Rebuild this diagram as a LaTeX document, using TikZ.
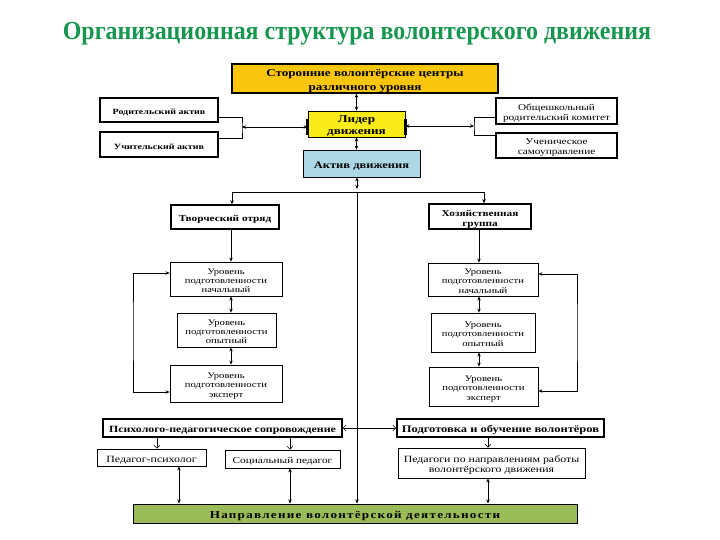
\documentclass[tikz,border=0pt]{standalone}
\usepackage{fontspec}
\setmainfont{Liberation Serif}
\newfontfamily\boxfont[FakeStretch=1.25]{Liberation Serif}
\newfontfamily\titlefont[FakeStretch=0.92]{Liberation Serif}
\usetikzlibrary{arrows.meta}
\newcommand\mlines[1]{\raisebox{-2.5pt}[\height][\depth]{\begin{tabular}{@{}c@{}}#1\end{tabular}}}
\definecolor{titlegreen}{RGB}{22,150,78}
\definecolor{gold}{RGB}{250,198,12}
\definecolor{lidyellow}{RGB}{250,236,25}
\definecolor{aktblue}{RGB}{172,216,230}
\definecolor{napgreen}{RGB}{155,187,89}
\tikzset{
  bx/.style={draw=black, line width=0.8pt, fill=white, align=center, inner sep=0pt,
    execute at begin node={\rule{0pt}{1.2em}}},
  thickbx/.style={bx, line width=1.6pt},
  fs/.style 2 args={font=\boxfont\fontsize{#1}{#2}\selectfont},
  fsb/.style 2 args={font=\boxfont\bfseries\fontsize{#1}{#2}\selectfont},
  ln/.style={line width=0.8pt},
  con/.style={ln, -{Stealth[length=4pt,width=3.5pt]}},
  dcon/.style={ln, {Stealth[length=4pt,width=3.5pt]}-{Stealth[length=4pt,width=3.5pt]}},
  ocon/.style={line width=0.6pt, -{Straight Barb[length=3pt,width=6pt]}},
  docon/.style={line width=0.6pt, {Straight Barb[length=3pt,width=6pt]}-{Straight Barb[length=3pt,width=6pt]}},
}
\begin{document}
\begin{tikzpicture}[x=1pt,y=-1pt]
\useasboundingbox (0,0) rectangle (720,540);
\node[font=\titlefont\bfseries\fontsize{26}{28}\selectfont, text=titlegreen, inner sep=0pt] (title) at (357,33.5) {Организационная структура волонтерского движения};

% top part
\node[bx, fill=gold, line width=1.2pt, minimum width=266pt, minimum height=29pt, fsb={10.5}{13.5}] (top) at (365,78.5) {\mlines{Сторонние волонтёрские центры\\различного уровня}};
\node[bx, fill=lidyellow, minimum width=97pt, minimum height=26pt, fsb={10.5}{12}] (lid) at (356.5,124) {\mlines{Лидер\\движения}};
\fill ([xshift=-1.5pt,yshift=-8pt]lid.north west) rectangle ([xshift=1.5pt,yshift=2pt]lid.south west);
\fill ([xshift=-1.5pt,yshift=-8pt]lid.north east) rectangle ([xshift=1.5pt,yshift=2pt]lid.south east);
\node[bx, fill=aktblue, minimum width=117pt, minimum height=27pt, fsb={10}{12}] (akt) at (361.5,163.5) {Актив движения};

\node[thickbx, line width=1.2pt, minimum width=118pt, minimum height=24pt, fsb={8}{10}] (rod) at (159,110) {Родительский актив};
\node[thickbx, line width=1.2pt, minimum width=118pt, minimum height=25pt, fsb={8}{10}] (uch) at (159,144.5) {Учительский актив};
\node[thickbx, line width=1.2pt, minimum width=121pt, minimum height=26pt, fs={9}{10}] (obs) at (556.5,111) {\mlines{Общешкольный\\родительский комитет}};
\node[thickbx, line width=1.2pt, minimum width=121pt, minimum height=25pt, fs={9}{10}] (ucs) at (556.5,145.5) {\mlines{Ученическое\\самоуправление}};

% brackets
\coordinate (bl) at (242,127);
\coordinate (br) at (474,126);
\draw[ln] ([yshift=-7pt]rod.east) -| (bl) |- ([yshift=6.5pt]uch.east);
\draw[dcon] (bl) -- (bl -| lid.west);
\draw[ln] ([yshift=-6pt]obs.west) -| (br) |- ([yshift=10pt]ucs.west);
\draw[dcon] (br) -- (br -| lid.east);

\draw[dcon] (top.south -| lid.north) -- (lid.north);
\draw[dcon] (lid.south) -- (lid.south |- akt.north);

% branches
\coordinate (j) at (357,192);
\coordinate (jl) at (232,192);
\coordinate (jr) at (484,192);
\node[thickbx, minimum width=108pt, minimum height=24pt, fsb={9}{11}] (tvo) at (225,217) {Творческий отряд};
\node[thickbx, minimum width=102pt, minimum height=25pt, fsb={9}{10}] (hoz) at (480,216.5) {\mlines{Хозяйственная\\группа}};
\draw[dcon] (akt.south -| j) -- ([yshift=3pt]j);
\draw[ln] (jl) -- (jr);
\draw[con] (jl) -- (jl |- tvo.north);
\draw[con] (jr) -- (jr |- hoz.north);

% levels
\node[bx, minimum width=112pt, minimum height=34pt, fs={8.5}{9.3}] (l1) at (226,279) {\mlines{Уровень\\подготовленности\\начальный}};
\node[bx, minimum width=99pt, minimum height=34pt, fs={8.5}{9.3}] (l2) at (226.5,330) {\mlines{Уровень\\подготовленности\\опытный}};
\node[bx, minimum width=112pt, minimum height=37pt, fs={8.5}{9.3}] (l3) at (226,383.5) {\mlines{Уровень\\подготовленности\\эксперт}};
\node[bx, minimum width=110pt, minimum height=33pt, fs={8.5}{9.3}] (r1) at (483,279.5) {\mlines{Уровень\\подготовленности\\начальный}};
\node[bx, minimum width=104pt, minimum height=39pt, fs={8.5}{9.3}] (r2) at (483,332.5) {\mlines{Уровень\\подготовленности\\опытный}};
\node[bx, minimum width=109pt, minimum height=39pt, fs={8.5}{9.3}] (r3) at (483.5,386.5) {\mlines{Уровень\\подготовленности\\эксперт}};

\coordinate (cl) at (231,0);
\coordinate (cr) at (479,0);
\draw[con] (tvo.south -| cl) -- (l1.north -| cl);
\draw[dcon] (l1.south -| cl) -- (l2.north -| cl);
\draw[dcon] (l2.south -| cl) -- (l3.north -| cl);
\draw[con] (hoz.south -| cr) -- (r1.north -| cr);
\draw[dcon] (r1.south -| cr) -- (r2.north -| cr);
\draw[dcon] (r2.south -| cr) -- (r3.north -| cr);

\coordinate (loopL) at (133,0);
\coordinate (loopR) at (577,0);
\draw[dcon] ([yshift=6pt]l1.west) -| (loopL |- l2) |- ([yshift=-8.5pt]l3.west);
\draw[dcon] ([yshift=5.5pt]r1.east) -| (loopR |- r2) |- ([yshift=-4.5pt]r3.east);

% bottom
\node[thickbx, minimum width=239pt, minimum height=18pt, fsb={9.5}{11}] (psy) at (222.5,428) {Психолого-педагогическое сопровождение};
\node[bx, minimum width=109pt, minimum height=17pt, fs={9.5}{11}] (pp) at (151.5,457.5) {Педагог-психолог};
\node[bx, minimum width=115pt, minimum height=18pt, fs={9}{11}] (sp) at (282.5,459) {Социальный педагог};
\node[thickbx, minimum width=207pt, minimum height=18pt, fsb={10}{11}] (pod) at (500.5,428) {Подготовка и обучение волонтёров};
\node[bx, minimum width=187pt, minimum height=30pt, fs={9.5}{10.5}] (ped) at (491.5,463) {\mlines{Педагоги по направлениям работы\\волонтёрского движения}};
\node[bx, fill=napgreen, line width=1pt, minimum width=444pt, minimum height=19pt, font=\boxfont\bfseries\fontsize{10.5}{12}\selectfont\addfontfeature{LetterSpace=12}] (nap) at (355,513.5) {Направление волонтёрской деятельности};

\draw[con] (j) -- (j |- nap.north);
\draw[docon] (psy.east) -- (pod.west);

\coordinate (c157) at (157,0);
\coordinate (c290) at (290,0);
\coordinate (c179) at (179,0);
\coordinate (c488) at (488,0);
\draw[ocon] (psy.south -| c157) -- (pp.north -| c157);
\draw[ocon] (psy.south -| c290) -- (sp.north -| c290);
\draw[dcon] (pp.south -| c179) -- (nap.north -| c179);
\draw[dcon] (sp.south -| c290) -- (nap.north -| c290);
\draw[ocon] (pod.south -| c488) -- (ped.north -| c488);
\draw[dcon] (ped.south -| c488) -- (nap.north -| c488);
\end{tikzpicture}
\end{document}
